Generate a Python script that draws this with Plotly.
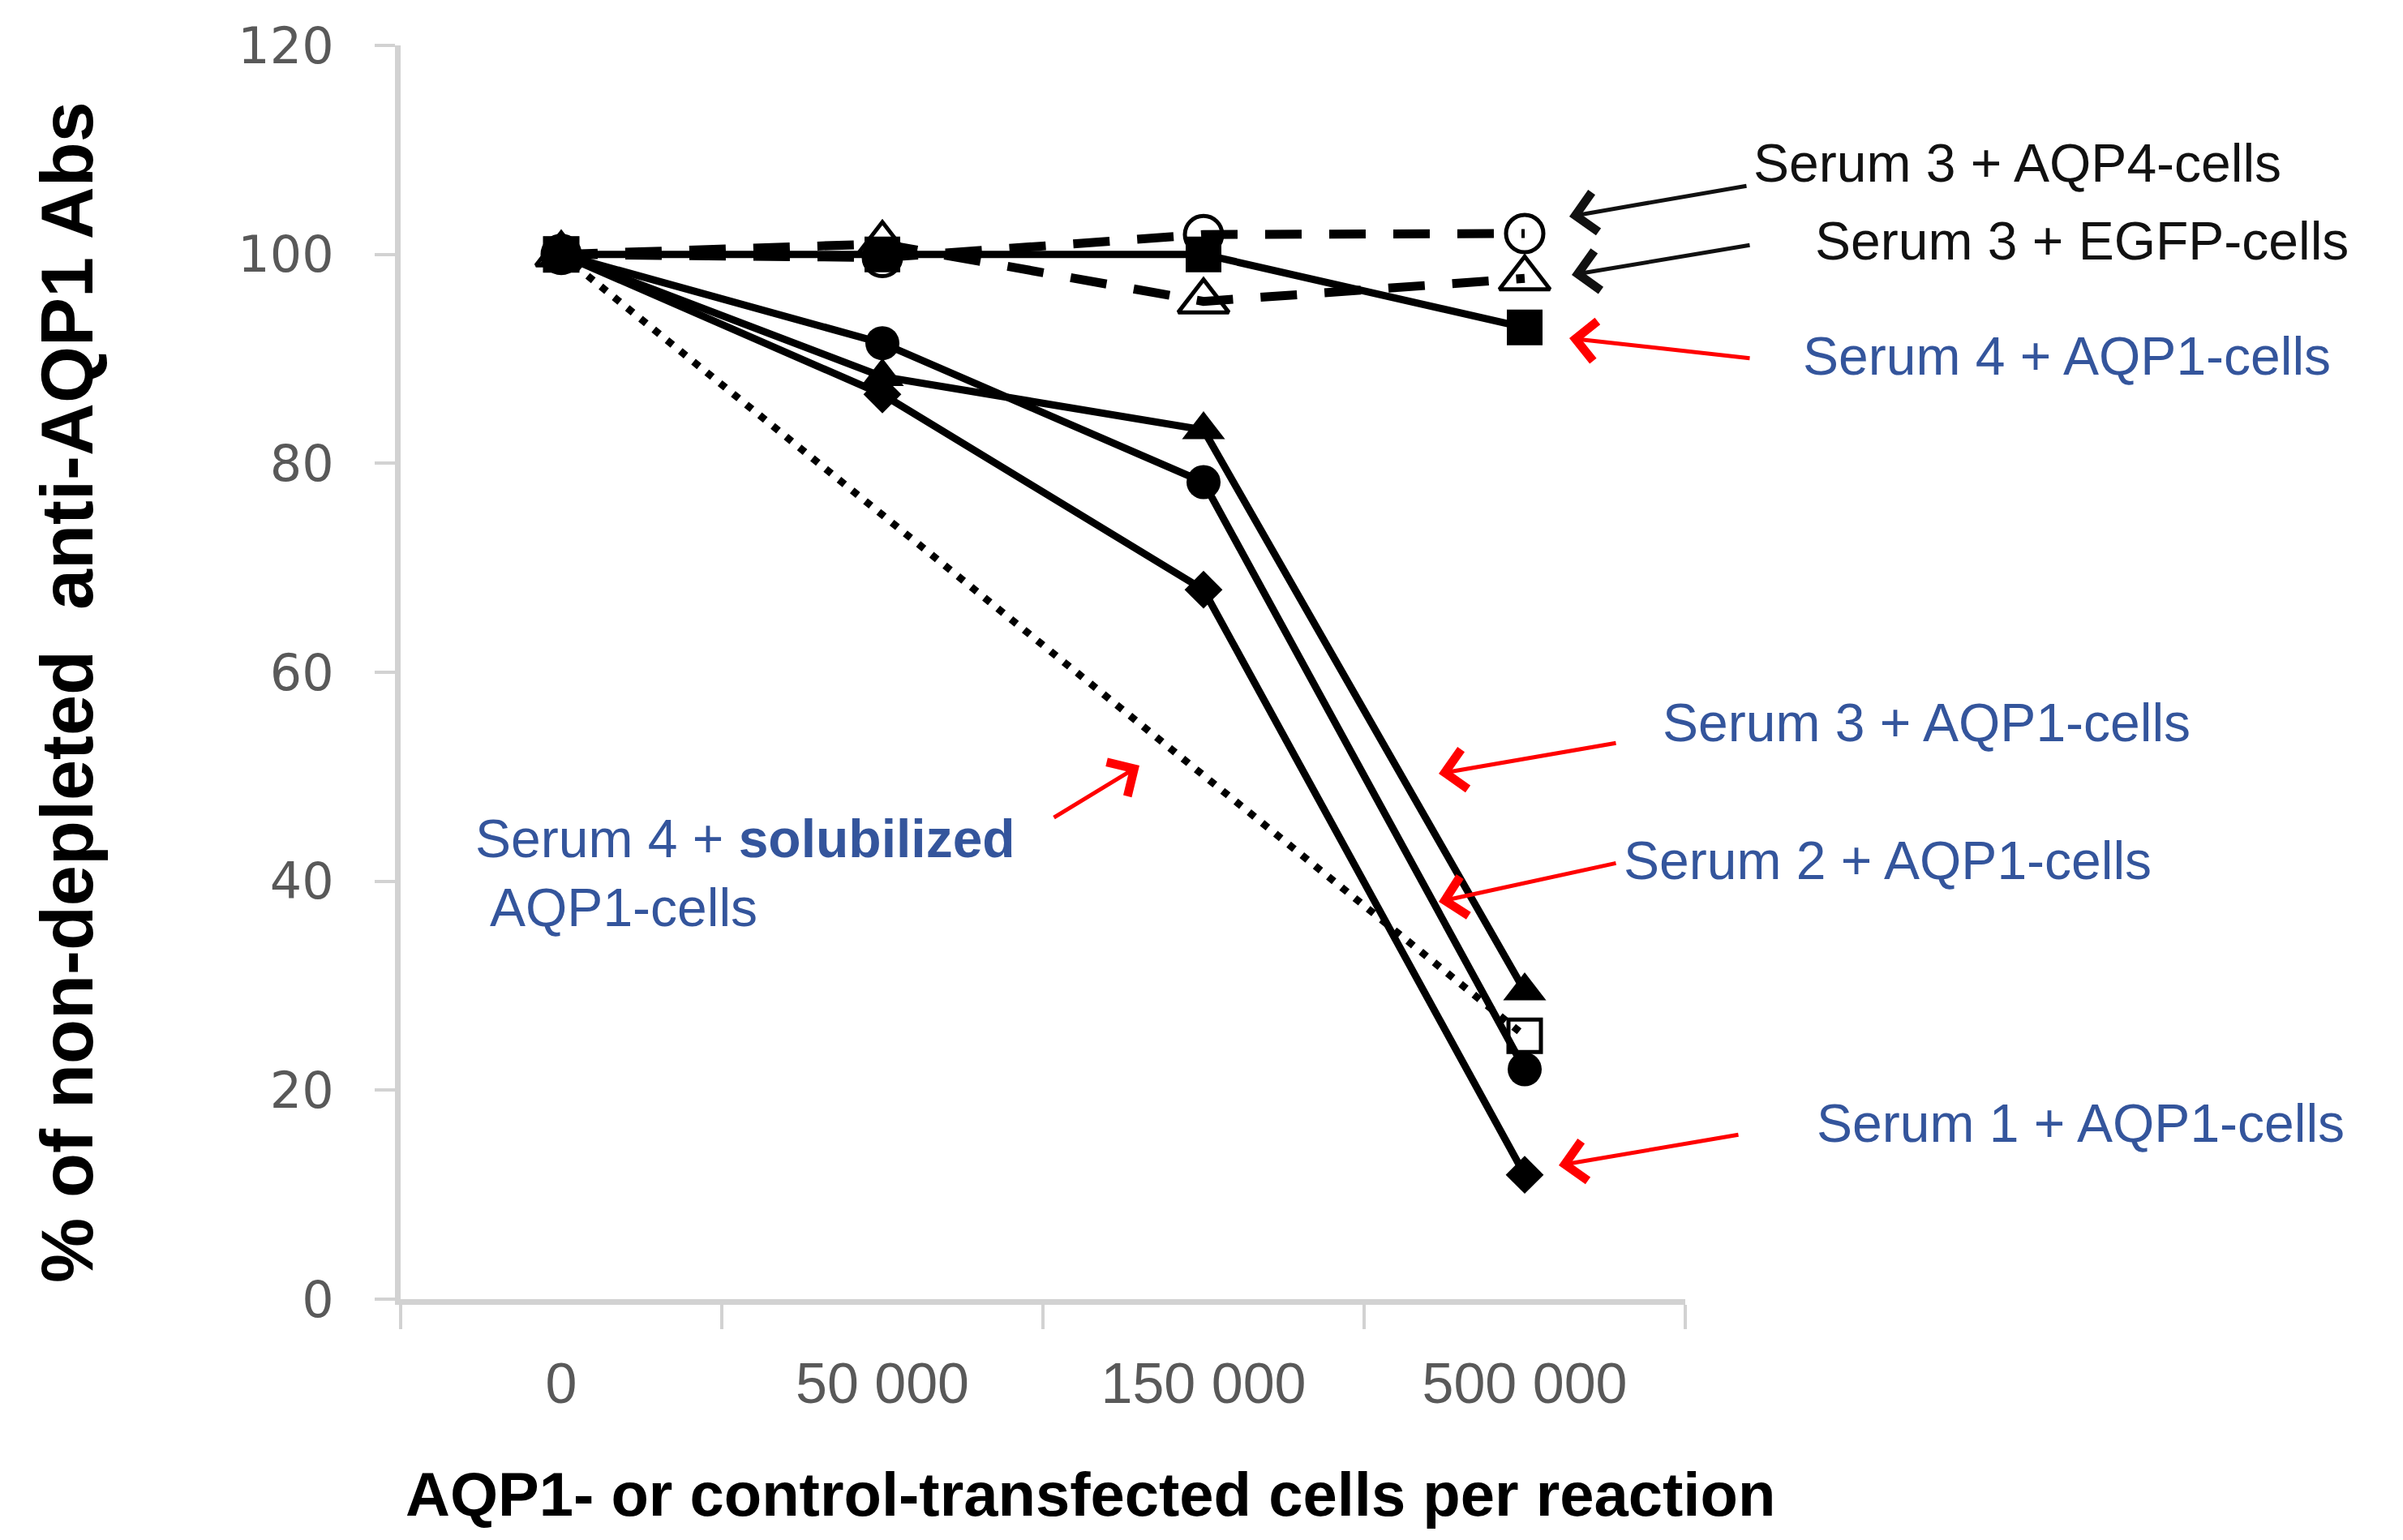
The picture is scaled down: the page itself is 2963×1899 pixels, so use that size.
import plotly.graph_objects as go

# ---------------- data ----------------
categories = ["0", "50 000", "150 000", "500 000"]
serum1_aqp1 = [100, 86.6, 67.9, 11.9]
serum2_aqp1 = [100, 91.5, 78.2, 22.0]
serum3_aqp1 = [100, 88.3, 83.2, 29.5]
serum4_aqp1 = [100, 100, 100, 93.0]
serum3_aqp4 = [100, 99.7, 101.9, 102.0]
serum3_egfp = [100, 101.0, 95.5, 97.7]
serum4_solubilized = [100, None, None, 25.2]

y_ticks = [0, 20, 40, 60, 80, 100, 120]

# ---------------- layout geometry (pixels) ----------------
W, H = 2963, 1899
L, R, T, B = 486, 893, 48, 305
PW, PH = W - L - R, H - T - B
DY = -9  # vertical correction for overlay items


def px(x, y):
    return (x - L) / PW, (H - B - (y + DY)) / PH


BLUE = "#34559c"
BLACK = "#111111"
RED = "#ff0000"
AXIS = "#d2d2d2"
TICKFONT = "#595959"
FONT = "Liberation Sans, Arial, sans-serif"

fig = go.Figure()

# dashed control series (open markers)
fig.add_trace(go.Scatter(
    x=categories, y=serum3_aqp4, mode="lines+markers", name="Serum 3 + AQP4-cells",
    line=dict(color="black", width=11, dash="45px,34px"),
    marker=dict(symbol="circle-open", size=46, color="black", line=dict(width=5, color="black")),
))
fig.add_trace(go.Scatter(
    x=categories, y=serum3_egfp, mode="lines+markers", name="Serum 3 + EGFP-cells",
    line=dict(color="black", width=11, dash="45px,34px"),
    marker=dict(symbol="triangle-up-open", size=54, color="black", line=dict(width=5, color="black")),
))
# dotted solubilized series
fig.add_trace(go.Scatter(
    x=categories, y=serum4_solubilized, mode="lines+markers", connectgaps=True,
    name="Serum 4 + solubilized AQP1-cells",
    line=dict(color="black", width=9, dash="9px,12px"),
    marker=dict(symbol="square-open", size=40, color="black", line=dict(width=5, color="black")),
))
# solid series
fig.add_trace(go.Scatter(
    x=categories, y=serum1_aqp1, mode="lines+markers", name="Serum 1 + AQP1-cells",
    line=dict(color="black", width=9),
    marker=dict(symbol="diamond", size=36, color="black"),
))
fig.add_trace(go.Scatter(
    x=categories, y=serum2_aqp1, mode="lines+markers", name="Serum 2 + AQP1-cells",
    line=dict(color="black", width=9),
    marker=dict(symbol="circle", size=42, color="black"),
))
fig.add_trace(go.Scatter(
    x=categories, y=serum3_aqp1, mode="lines+markers", name="Serum 3 + AQP1-cells",
    line=dict(color="black", width=9),
    marker=dict(symbol="triangle-up", size=46, color="black"),
))
fig.add_trace(go.Scatter(
    x=categories, y=serum4_aqp1, mode="lines+markers", name="Serum 4 + AQP1-cells",
    line=dict(color="black", width=9),
    marker=dict(symbol="square", size=44, color="black"),
))

annotations = []

# text labels: (text, left x px, center y px, colour)
labels = [
    ("Serum 3 + AQP4-cells", 2152, 202, BLACK),
    ("Serum 3 + EGFP-cells", 2228, 298, BLACK),
    ("Serum 4 + AQP1-cells", 2213, 440, BLUE),
    ("Serum 3 + AQP1-cells", 2040, 892, BLUE),
    ("Serum 2 + AQP1-cells", 1992, 1062, BLUE),
    ("Serum 1 + AQP1-cells", 2230, 1386, BLUE),
    ("Serum 4 + <b>solubilized</b>", 576, 1035, BLUE),
    ("AQP1-cells", 594, 1120, BLUE),
]
for text, lx, cy, col in labels:
    xp, yp = px(lx, cy)
    annotations.append(dict(
        text=text, x=xp, y=yp, xref="paper", yref="paper", xanchor="left", yanchor="middle",
        showarrow=False, font=dict(family=FONT, size=66, color=col),
    ))

# arrows: (tail x, tail y, tip x, tip y, colour)
arrows = [
    (2147, 230, 1927, 268, BLACK),
    (2151, 303, 1930, 340, BLACK),
    (2151, 443, 1927, 418, RED),
    (1986, 917, 1766, 955, RED),
    (1986, 1065, 1766, 1113, RED),
    (2137, 1400, 1914, 1438, RED),
    (1290, 1010, 1397, 945, RED),
]
for tx, ty, hx, hy, col in arrows:
    xp, yp = px(hx, hy)
    annotations.append(dict(
        text="", x=xp, y=yp, xref="paper", yref="paper",
        ax=tx - hx, ay=ty - hy, axref="pixel", ayref="pixel",
        showarrow=True, arrowhead=4, arrowsize=1.9, arrowwidth=5, arrowcolor=col,
        standoff=0, startstandoff=0,
    ))

# axis titles
xp, yp = px(1336, 1843)
annotations.append(dict(
    text="<b>AQP1- or control-transfected cells per reaction</b>", x=xp, y=yp,
    xref="paper", yref="paper", xanchor="center", yanchor="middle", showarrow=False,
    font=dict(family=FONT, size=76, color="black"),
))
xp, yp = px(75, 855)
annotations.append(dict(
    text="<b>% of non-depleted  anti-AQP1 Abs</b>", x=xp, y=yp, textangle=-90,
    xref="paper", yref="paper", xanchor="center", yanchor="middle", showarrow=False,
    font=dict(family=FONT, size=90, color="black"),
))

fig.update_layout(
    width=W, height=H,
    margin=dict(l=L, r=R, t=T, b=B, pad=0),
    paper_bgcolor="white", plot_bgcolor="white",
    showlegend=False,
    annotations=annotations,
    xaxis=dict(
        type="category", categoryorder="array", categoryarray=categories,
        range=[-0.5, 3.5], showgrid=False, zeroline=False,
        showline=True, linecolor=AXIS, linewidth=7,
        ticks="outside", tickson="boundaries", ticklen=30, tickwidth=4, tickcolor=AXIS,
        tickfont=dict(family=FONT, size=70, color=TICKFONT),
        ticklabelstandoff=37, automargin=False,
    ),
    yaxis=dict(
        range=[0, 120], tickvals=y_ticks, showgrid=False, zeroline=False,
        showline=True, linecolor=AXIS, linewidth=7,
        ticks="outside", ticklen=25, tickwidth=4, tickcolor=AXIS,
        tickfont=dict(family="DejaVu Sans, sans-serif", size=62, color=TICKFONT),
        ticklabelstandoff=38, automargin=False,
    ),
)

fig.write_html("out.html")
